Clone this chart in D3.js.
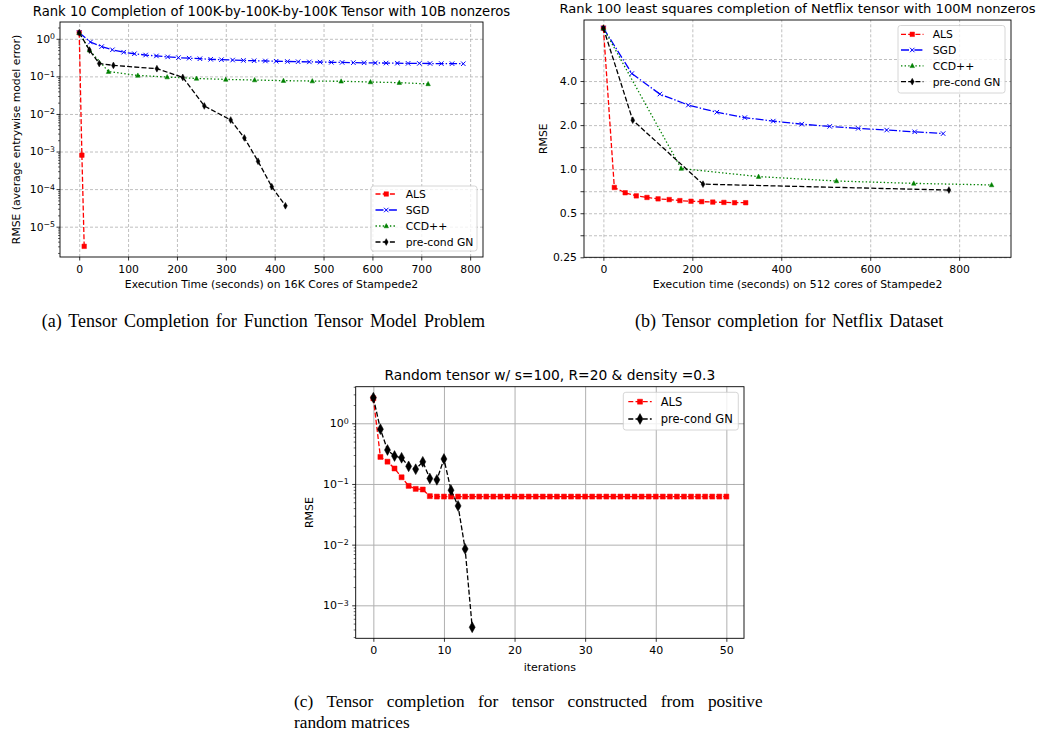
<!DOCTYPE html>
<html>
<head>
<meta charset="utf-8">
<script src="https://cdn.jsdelivr.net/npm/d3@7"></script>
<style>
  body { margin: 0; background: #fff; }
  text { font-family: "DejaVu Sans", sans-serif; }
</style>
</head>
<body>
<div id="container"></div>
<script>
// ---- (a) function tensor model problem, 16K cores
const aAlsT = [0, 5.5, 10.2];
const aAlsE = [1.45, 8.0e-4, 3.0e-6];
const aSgdT = [0, 23, 46, 68, 91, 113, 136, 158, 181, 203, 225, 247, 269, 291, 314, 336, 358, 381, 403, 426, 448, 471, 493, 516, 538, 561, 583, 606, 628, 651, 673, 696, 718, 741, 763, 786];
const aSgdE = [1.45, 0.82, 0.62, 0.51, 0.44, 0.40, 0.37, 0.35, 0.33, 0.315, 0.305, 0.295, 0.285, 0.278, 0.272, 0.266, 0.261, 0.257, 0.253, 0.249, 0.246, 0.243, 0.240, 0.237, 0.235, 0.232, 0.230, 0.228, 0.226, 0.224, 0.222, 0.221, 0.220, 0.219, 0.218, 0.217];
const aCcdT = [0, 21, 60, 120, 180, 240, 300, 359, 418, 477, 536, 596, 655, 714];
const aCcdE = [1.45, 0.50, 0.134, 0.106, 0.096, 0.088, 0.083, 0.080, 0.077, 0.075, 0.074, 0.071, 0.068, 0.063];
const aGnT = [0, 21, 41, 70, 159, 212, 256, 310, 338, 366, 394, 422];
const aGnE = [1.45, 0.50, 0.22, 0.196, 0.16, 0.094, 0.0163, 0.0069, 0.0023, 5.5e-4, 1.16e-4, 3.6e-5];
const aXTicks = [0, 100, 200, 300, 400, 500, 600, 700, 800];
const aYTicks = [1, 1e-1, 1e-2, 1e-3, 1e-4, 1e-5];

// ---- (b) Netflix, 512 cores
const bAlsT = [0, 24.6, 49, 74, 98, 123, 148, 172, 197, 221, 246, 271, 295, 320];
const bAlsE = [9.2, 0.75, 0.69, 0.657, 0.641, 0.627, 0.62, 0.61, 0.604, 0.60, 0.596, 0.593, 0.59, 0.59];
const bSgdT = [0, 64, 127, 191, 255, 318, 382, 446, 509, 573, 637, 700, 764];
const bSgdE = [9.2, 4.5, 3.26, 2.74, 2.45, 2.25, 2.13, 2.03, 1.96, 1.90, 1.85, 1.80, 1.75];
const bCcdT = [0, 175, 349, 524, 698, 873];
const bCcdE = [9.2, 1.01, 0.89, 0.83, 0.80, 0.78];
const bGnT = [0, 66, 224, 777];
const bGnE = [9.2, 2.16, 0.79, 0.72];
const bXTicks = [0, 200, 400, 600, 800];
const bYTicks = [0.25, 0.3536, 0.5, 0.7071, 1.0, 1.4142, 2.0, 2.8284, 4.0, 5.6569];
const bYLabels = ["0.25", "", "0.5", "", "1.0", "", "2.0", "", "4.0", ""];

// ---- (c) random tensor, iterations
const cAlsIt = [0, 1, 2, 3, 4, 5, 6, 7, 8, 9, 10, 11, 12, 13, 14, 15, 16, 17, 18, 19, 20, 21, 22, 23, 24, 25, 26, 27, 28, 29, 30, 31, 32, 33, 34, 35, 36, 37, 38, 39, 40, 41, 42, 43, 44, 45, 46, 47, 48, 49, 50];
const cAlsE = [2.58, 0.279, 0.233, 0.180, 0.129, 0.093, 0.083, 0.081, 0.063, 0.062, 0.062, 0.062, 0.062, 0.062, 0.062, 0.062, 0.062, 0.062, 0.062, 0.062, 0.062, 0.062, 0.062, 0.062, 0.062, 0.062, 0.062, 0.062, 0.062, 0.062, 0.062, 0.062, 0.062, 0.062, 0.062, 0.062, 0.062, 0.062, 0.062, 0.062, 0.062, 0.062, 0.062, 0.062, 0.062, 0.062, 0.062, 0.062, 0.062, 0.062, 0.062];
const cGnIt = [0, 1, 2, 3, 4, 5, 6, 7, 8, 9, 10, 11, 12, 13, 14];
const cGnE = [2.64, 0.80, 0.363, 0.289, 0.27, 0.195, 0.175, 0.232, 0.123, 0.117, 0.258, 0.079, 0.0435, 0.0085, 4.35e-4];
const cXTicks = [0, 10, 20, 30, 40, 50];
const cYTicks = [1, 1e-1, 1e-2, 1e-3];

const STYLE = {
  "ALS": {color: "#ff0000", dash: "5,2.2", marker: "square"},
  "SGD": {color: "#0000ff", dash: "8,2,1.4,2", marker: "x"},
  "CCD++": {color: "#008000", dash: "1.4,2.2", marker: "triangle"},
  "pre-cond GN": {color: "#000000", dash: "5,2.2", marker: "diamond"}
};

const svg = d3.select("#container")
  .append("svg")
  .attr("width", 1042)
  .attr("height", 740);

svg.append("rect").attr("width", 1042).attr("height", 740).attr("fill", "#fff");

function markerPath(type, s) {
  const h = s / 2;
  if (type == "square") return `M${-h},${-h}h${s}v${s}h${-s}Z`;
  if (type == "triangle") return `M0,${-h * 1.1}L${h},${h * 0.8}L${-h},${h * 0.8}Z`;
  if (type == "diamond") return `M0,${-h * 1.35}L${h * 0.75},0L0,${h * 1.35}L${-h * 0.75},0Z`;
  return `M${-h},${-h}L${h},${h}M${-h},${h}L${h},${-h}`;
}

function drawMarkers(g, pts, st, ms) {
  g.selectAll(null)
    .data(pts)
    .join("path")
    .attr("transform", d => `translate(${d[0]},${d[1]})`)
    .attr("d", markerPath(st.marker, ms))
    .attr("fill", st.marker == "x" ? "none" : st.color)
    .attr("stroke", st.color)
    .attr("stroke-width", st.marker == "x" ? 1 : 0.5);
}

function pow10Label(sel) {
  sel.each(function(d) {
    const t = d3.select(this);
    const e = Math.round(Math.log10(d));
    t.text("10");
    t.append("tspan")
      .attr("dy", "-0.45em")
      .attr("font-size", "0.72em")
      .text(e < 0 ? "\u2212" + (-e) : String(e));
  });
}

function panel(p) {
  const g = svg.append("g");
  const x = d3.scaleLinear().domain(p.xDomain).range([p.left, p.right]);
  const y = d3.scaleLog().base(p.yBase).domain(p.yDomain).range([p.bottom, p.top]);
  const w = p.right - p.left, h = p.bottom - p.top;

  // grid
  g.append("g")
    .attr("transform", `translate(0,${p.bottom})`)
    .call(d3.axisBottom(x).tickValues(p.xTicks).tickSize(-h).tickFormat(""))
    .call(a => {
      a.select(".domain").remove();
      a.selectAll("line").attr("stroke", p.gridColor).attr("stroke-width", p.gridW).attr("stroke-dasharray", p.gridDash);
    });
  g.append("g")
    .attr("transform", `translate(${p.left},0)`)
    .call(d3.axisLeft(y).tickValues(p.yGrid).tickSize(-w).tickFormat(""))
    .call(a => {
      a.select(".domain").remove();
      a.selectAll("line").attr("stroke", p.gridColor).attr("stroke-width", p.gridW).attr("stroke-dasharray", p.gridDash);
    });

  // series
  p.series.forEach(s => {
    const st = STYLE[s.name];
    const pts = s.xs.map((d, i) => [x(d), y(s.ys[i])]);
    g.append("path")
      .attr("d", d3.line()(pts))
      .attr("fill", "none")
      .attr("stroke", st.color)
      .attr("stroke-width", p.lw)
      .attr("stroke-dasharray", st.dash);
    drawMarkers(g, pts, st, s.name == "pre-cond GN" ? p.msGn : p.ms);
  });

  // spines
  g.append("rect")
    .attr("x", p.left).attr("y", p.top).attr("width", w).attr("height", h)
    .attr("fill", "none").attr("stroke", "#000").attr("stroke-width", 0.9);

  // x axis
  g.append("g")
    .attr("transform", `translate(0,${p.bottom})`)
    .call(d3.axisBottom(x).tickValues(p.xTicks).tickSize(3.5).tickPadding(4.5).tickFormat(d3.format("d")))
    .call(a => {
      a.select(".domain").remove();
      a.selectAll("line").attr("stroke", "#000").attr("stroke-width", 0.8);
      a.selectAll("text").attr("fill", "#000").attr("font-size", p.fs).attr("font-family", "DejaVu Sans");
    });

  // y axis minor
  if (p.yMinor) {
    g.append("g")
      .attr("transform", `translate(${p.left},0)`)
      .call(d3.axisLeft(y).tickValues(p.yMinor).tickSize(2).tickFormat(""))
      .call(a => {
        a.select(".domain").remove();
        a.selectAll("line").attr("stroke", "#000").attr("stroke-width", 0.6);
      });
  }
  // y axis major
  g.append("g")
    .attr("transform", `translate(${p.left},0)`)
    .call(d3.axisLeft(y).tickValues(p.yTicks).tickSize(3.5).tickPadding(p.yPad).tickFormat((d, i) => p.yLabels ? p.yLabels[i] : ""))
    .call(a => {
      a.select(".domain").remove();
      a.selectAll("line").attr("stroke", "#000").attr("stroke-width", 0.8);
      a.selectAll("text").attr("fill", "#000").attr("font-size", p.fs).attr("font-family", "DejaVu Sans");
      if (!p.yLabels) a.selectAll("text").call(pow10Label);
    });

  // title and axis labels
  g.append("text").attr("x", (p.left + p.right) / 2).attr("y", p.titleY)
    .attr("text-anchor", "middle").attr("font-size", p.titleFs).text(p.title);
  g.append("text").attr("x", (p.left + p.right) / 2).attr("y", p.xLabelY)
    .attr("text-anchor", "middle").attr("font-size", p.labFs).text(p.xLabel);
  g.append("text")
    .attr("transform", `translate(${p.yLabelX},${(p.top + p.bottom) / 2}) rotate(-90)`)
    .attr("text-anchor", "middle").attr("font-size", p.labFs).text(p.yLabel);

  // legend
  const L = p.legend;
  g.append("rect")
    .attr("x", L.x).attr("y", L.y).attr("width", L.w).attr("height", L.h)
    .attr("rx", 2.5).attr("fill", "#fff").attr("fill-opacity", 0.8)
    .attr("stroke", "#cccccc").attr("stroke-width", 0.8);
  p.series.forEach((s, i) => {
    const st = STYLE[s.name];
    const ry = L.rowY[i];
    g.append("line")
      .attr("x1", L.hx0).attr("x2", L.hx1).attr("y1", ry).attr("y2", ry)
      .attr("stroke", st.color).attr("stroke-width", p.lw).attr("stroke-dasharray", st.dash);
    drawMarkers(g, [[(L.hx0 + L.hx1) / 2, ry]], st, s.name == "pre-cond GN" ? p.msGn : p.ms);
    g.append("text").attr("x", L.tx).attr("y", ry).attr("dy", "0.36em")
      .attr("font-size", L.fs).text(s.name);
  });
}

function minorLog(lo, hi) {
  const out = [];
  for (let e = Math.floor(Math.log10(lo)); e <= Math.ceil(Math.log10(hi)); e++) {
    for (let k = 2; k <= 9; k++) {
      const v = k * Math.pow(10, e);
      if (v >= lo && v <= hi) out.push(v);
    }
  }
  return out;
}

// (a)
panel({
  left: 60, right: 483, top: 22, bottom: 257,
  xDomain: [-39.3, 826.3], yDomain: [1.56e-6, 2.8], yBase: 10,
  xTicks: aXTicks, yTicks: aYTicks, yGrid: aYTicks, yMinor: minorLog(1.56e-6, 2.8), yPad: 1.5,
  gridColor: "#b0b0b0", gridDash: "3,2", gridW: 0.8, lw: 1.3, ms: 4.5, msGn: 5,
  fs: 10.8, labFs: 10.8, titleFs: 13.2,
  title: "Rank 10 Completion of 100K-by-100K-by-100K Tensor with 10B nonzeros", titleY: 15.5,
  xLabel: "Execution Time (seconds) on 16K Cores of Stampede2", xLabelY: 287.5,
  yLabel: "RMSE (average entrywise model error)", yLabelX: 20,
  series: [
    {name: "ALS", xs: aAlsT, ys: aAlsE},
    {name: "SGD", xs: aSgdT, ys: aSgdE},
    {name: "CCD++", xs: aCcdT, ys: aCcdE},
    {name: "pre-cond GN", xs: aGnT, ys: aGnE}
  ],
  legend: {x: 371, y: 186, w: 106, h: 65, rowY: [194, 210, 226, 242], hx0: 375.5, hx1: 397, tx: 405.7, fs: 10.8}
});

// (b)
panel({
  left: 584, right: 1011, top: 20, bottom: 257.3,
  xDomain: [-43.6, 916.6], yDomain: [0.25, 10.45], yBase: 2,
  xTicks: bXTicks, yTicks: bYTicks, yLabels: bYLabels, yGrid: bYTicks, yMinor: null, yPad: 3.5,
  gridColor: "#b0b0b0", gridDash: "3,2", gridW: 0.8, lw: 1.3, ms: 4.5, msGn: 5,
  fs: 10.8, labFs: 10.8, titleFs: 13.1,
  title: "Rank 100 least squares completion of Netflix tensor with 100M nonzeros", titleY: 13.3,
  xLabel: "Execution time (seconds) on 512 cores of Stampede2", xLabelY: 287.5,
  yLabel: "RMSE", yLabelX: 547,
  series: [
    {name: "ALS", xs: bAlsT, ys: bAlsE},
    {name: "SGD", xs: bSgdT, ys: bSgdE},
    {name: "CCD++", xs: bCcdT, ys: bCcdE},
    {name: "pre-cond GN", xs: bGnT, ys: bGnE}
  ],
  legend: {x: 898, y: 25.5, w: 107, h: 67.5, rowY: [34.3, 50, 65.8, 81.7], hx0: 901, hx1: 923.5, tx: 932.7, fs: 10.8}
});

// (c)
panel({
  left: 355.7, right: 744, top: 386.7, bottom: 638.3,
  xDomain: [-2.5, 52.5], yDomain: [2.86e-4, 4.01], yBase: 10,
  xTicks: cXTicks, yTicks: cYTicks, yGrid: cYTicks, yMinor: minorLog(2.86e-4, 4.01), yPad: 3.5,
  gridColor: "#b0b0b0", gridDash: null, gridW: 1, lw: 1.3, ms: 5, msGn: 8,
  fs: 11, labFs: 11, titleFs: 13.8,
  title: "Random tensor w/ s=100, R=20 & density =0.3", titleY: 380,
  xLabel: "iterations", xLabelY: 670.5,
  yLabel: "RMSE", yLabelX: 313,
  series: [
    {name: "ALS", xs: cAlsIt, ys: cAlsE},
    {name: "pre-cond GN", xs: cGnIt, ys: cGnE}
  ],
  legend: {x: 623.3, y: 392.3, w: 115, h: 37.7, rowY: [401.7, 419], hx0: 628.3, hx1: 651.7, tx: 660.7, fs: 11.5}
});

// captions: stretch only the word gaps to reach the measured width
function caption(x, y, size, text, width) {
  const t = svg.append("text").attr("x", x).attr("y", y).attr("font-size", size)
    .attr("fill", "#000")
    .style("font-family", "'Liberation Serif', serif")
    .text(text);
  if (width) {
    const natural = t.node().getComputedTextLength();
    const gaps = text.split(" ").length - 1;
    t.attr("word-spacing", ((width - natural) / gaps).toFixed(2));
  }
}
caption(41.7, 326.7, 18, "(a) Tensor Completion for Function Tensor Model Problem", 443.3);
caption(635, 326.7, 18, "(b) Tensor completion for Netflix Dataset", 308.3);
caption(294, 706.7, 17.3, "(c) Tensor completion for tensor constructed from positive", 468.7);
caption(294, 727.5, 17.3, "random matrices", null);
</script>
</body>
</html>
